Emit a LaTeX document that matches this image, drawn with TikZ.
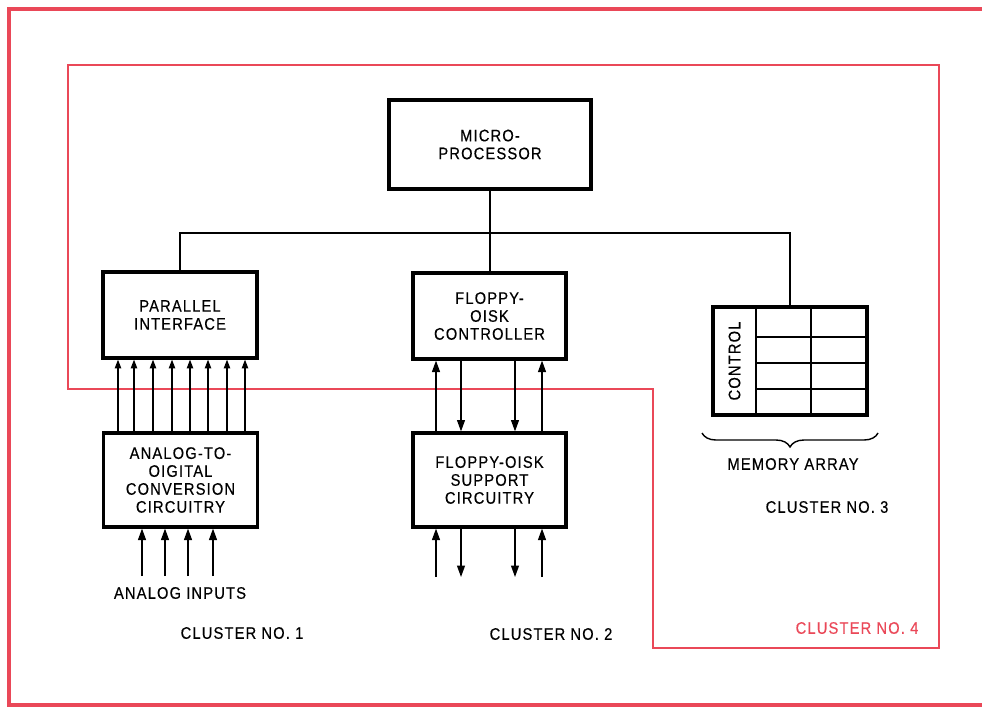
\documentclass[tikz,border=0pt]{standalone}
\usepackage{fontspec}
\setmainfont{Liberation Sans}[FakeStretch=0.88, LetterSpace=7, FakeBold=0.4]
\usepackage{xcolor}
\usetikzlibrary{arrows.meta, decorations.pathreplacing}
\definecolor{clred}{RGB}{234,72,88}

\begin{document}
\begin{tikzpicture}[
  x=0.02cm, y=-0.02cm,
  font=\fontsize{9.5}{10.2}\selectfont,
  blk/.style   = {draw, line width=1.8pt, fill=white, align=center,
                  inner sep=0pt, minimum width=3.08cm, minimum height=1.72cm},
  tblk/.style  = {blk, minimum height=1.88cm},
  wire/.style  = {line width=0.8pt},
  arr/.style   = {wire, -{Triangle[length=6.5pt,width=4.5pt]}},
  sarr/.style  = {wire, -{Triangle[length=5pt,width=3.6pt]}},
  frame/.style = {draw=clred, line width=2.2pt},
  clus/.style  = {draw=clred, line width=1.3pt},
  lbl/.style   = {inner sep=0pt}
]
\useasboundingbox (0,0) rectangle (982,707);

% red frames
\draw[frame] (982,9) -- (9,9) -- (9,705) -- (982,705);
\draw[clus] (68,65) -- (939,65) -- (939,648) -- (653,648) -- (653,389)
  -- (68,389) -- cycle;

% blocks
\node[blk, minimum width=4.04cm, minimum height=1.78cm] (micro) at (490,144.5)
  {MICRO-\\PROCESSOR};
\node[blk]  (par) at (180,315)   {PARALLEL\\INTERFACE};
\node[tblk] (adc) at (180.5,480) {ANALOG-TO-\\OIGITAL\\CONVERSION\\CIRCUITRY};
\node[blk, minimum width=3.06cm]  (fdc) at (489.5,316) {FLOPPY-\\OISK\\CONTROLLER};
\node[tblk, minimum width=3.06cm] (fds) at (489.5,480) {FLOPPY-OISK\\SUPPORT\\CIRCUITRY};
\node[blk, minimum height=2.16cm] (mem) at (790,361) {};

% memory array cells
\draw[line width=1.6pt] (756,307) -- (756,415);
\draw[line width=1.2pt] (811,307) -- (811,415);
\foreach \y in {337,363,389}
  \draw[line width=1pt] (756,\y) -- (867,\y);
\node[lbl, rotate=90] (ctrl) at (734.5,361) {CONTROL};
\draw[wire, decorate, decoration={brace, mirror, amplitude=0.28cm}]
  (702,433) -- (878,433);

% bus
\coordinate (bus) at (0,233);
\draw[wire] (micro.south) -- (micro.south |- fdc.north);
\draw[wire] (par.north) -- (par.north |- bus) -| (mem.north);

% cluster 1
\foreach \x in {118,134,153,172,190,208,227,245}
  \draw[sarr] (\x,0 |- adc.north) -- (\x,0 |- par.south);
\coordinate (inbase) at (0,576);
\foreach \x in {142,165,188,213}
  \draw[arr] (\x,0 |- inbase) -- (\x,0 |- adc.south);

% cluster 2
\foreach \x in {436,542}
  \draw[arr] (\x,0 |- fds.north) -- (\x,0 |- fdc.south);
\foreach \x in {461,515}
  \draw[arr] (\x,0 |- fdc.south) -- (\x,0 |- fds.north);
\coordinate (fdbase) at (0,577);
\foreach \x in {436,542}
  \draw[arr] (\x,0 |- fdbase) -- (\x,0 |- fds.south);
\foreach \x in {461,515}
  \draw[arr] (\x,0 |- fds.south) -- (\x,0 |- fdbase);

% labels
\node[lbl] (ain)  at (180,593) {ANALOG INPUTS};
\node[lbl] (memlbl) at (793,464) {MEMORY ARRAY};
\node[lbl] (cl1) at (242,633) {CLUSTER NO. 1};
\node[lbl] (cl2) at (551,634) {CLUSTER NO. 2};
\node[lbl] (cl3) at (827,507) {CLUSTER NO. 3};
\node[lbl, text=clred] (cl4) at (857,628) {CLUSTER NO. 4};
\end{tikzpicture}
\end{document}
